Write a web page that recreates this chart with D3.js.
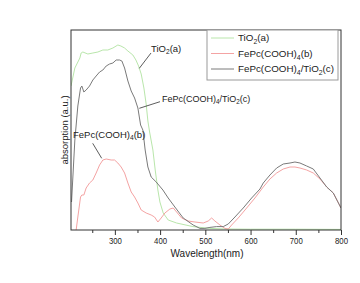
<!DOCTYPE html>
<html>
<head>
<meta charset="utf-8">
<script src="https://cdn.jsdelivr.net/npm/d3@7"></script>
<style>
  body { margin: 0; background: #fff; }
  text { font-family: "Liberation Sans", Arial, sans-serif; fill: #222; }
</style>
</head>
<body>
<svg id="chart" width="360" height="283"></svg>
<script>
// data (wavelength in nm, absorption in a.u.)
const tio2Wl  = [203, 211.5, 222.6, 225.4, 229.2, 240.3, 251.3, 262.4, 273.5, 284.5, 295.6, 306.6, 313.3, 321.5, 328.8, 339.8, 346.5, 352.4, 358.2, 364.2, 369.2, 373, 376.8, 384.1, 389.2, 395.1, 399.6, 406.9, 417.9, 436.5, 472.6, 510.2, 547.1, 600, 700, 800];
const tio2Abs = [0.72, 0.81, 0.86, 0.885, 0.89, 0.88, 0.885, 0.89, 0.90, 0.90, 0.91, 0.925, 0.92, 0.91, 0.895, 0.875, 0.85, 0.82, 0.78, 0.71, 0.63, 0.545, 0.49, 0.40, 0.30, 0.20, 0.14, 0.085, 0.05, 0.035, 0.017, 0.008, 0.005, 0.004, 0.004, 0.003];

const fepcWl  = [214.4, 218.1, 224.1, 227, 231.4, 236.5, 244, 251.3, 258.6, 266.2, 273.5, 280.8, 291.8, 299.3, 306.6, 313.9, 321.5, 328.8, 336.1, 343.6, 350.9, 358.2, 369.2, 380.3, 387.8, 395.1, 402.4, 410.6, 421.7, 429, 436.5, 447.6, 462.2, 477, 495.4, 506.4, 514, 521.2, 532.3, 543.4, 550.7, 558.2, 572.8, 591.4, 609.7, 628.1, 642.9, 657.7, 672.3, 687.2, 698.2, 709.3, 724.1, 738.7, 753.5, 768.4, 783, 800];
const fepcAbs = [0, 0.065, 0.165, 0.175, 0.175, 0.21, 0.235, 0.25, 0.285, 0.325, 0.35, 0.355, 0.35, 0.35, 0.335, 0.315, 0.285, 0.235, 0.19, 0.165, 0.135, 0.10, 0.085, 0.075, 0.065, 0.04, 0.06, 0.085, 0.105, 0.11, 0.09, 0.06, 0.045, 0.04, 0.035, 0.045, 0.06, 0.045, 0.025, 0.008, 0.005, 0.025, 0.06, 0.11, 0.16, 0.215, 0.255, 0.285, 0.305, 0.315, 0.315, 0.31, 0.30, 0.285, 0.255, 0.215, 0.185, 0.11];

const mixWl  = [204.2, 211.5, 218.1, 224.1, 227, 231.4, 236.5, 244, 251.3, 258.6, 266.2, 273.5, 280.8, 288.3, 295.6, 302.9, 310.4, 315.5, 321.5, 328.8, 336.1, 343.6, 350.9, 356.9, 361.9, 367, 373, 380.3, 391.4, 406.2, 417.9, 432.7, 451.1, 473.2, 488.1, 499.1, 510.2, 525, 539.6, 550.7, 565.5, 583.8, 602.4, 620.8, 628.1, 642.9, 657.7, 672.3, 687.2, 698.2, 709.3, 724.1, 738.7, 753.5, 768.4, 783, 800];
const mixAbs = [0.14, 0.45, 0.62, 0.71, 0.72, 0.69, 0.70, 0.72, 0.75, 0.77, 0.79, 0.80, 0.82, 0.83, 0.835, 0.85, 0.85, 0.845, 0.81, 0.745, 0.695, 0.66, 0.61, 0.525, 0.50, 0.40, 0.315, 0.265, 0.24, 0.20, 0.16, 0.115, 0.06, 0.025, 0.008, 0.008, 0.013, 0.017, 0.017, 0.03, 0.065, 0.11, 0.16, 0.205, 0.235, 0.275, 0.31, 0.33, 0.335, 0.34, 0.335, 0.32, 0.305, 0.26, 0.215, 0.185, 0.11];

const majorTicks = [300, 400, 500, 600, 700, 800];
const minorTicks = [250, 350, 450, 550, 650, 750];

const svg = d3.select("#chart");
const plotL = 71, plotR = 341, plotT = 30, plotB = 230;

const x = d3.scaleLinear().domain([203, 800]).range([plotL, plotR]);
const y = d3.scaleLinear().domain([0, 1]).range([plotB, plotT]);

const series = [
  {wl: tio2Wl, abs: tio2Abs, color: "#b9e6ab"},
  {wl: fepcWl, abs: fepcAbs, color: "#f4a3a3"},
  {wl: mixWl,  abs: mixAbs,  color: "#7a7a7a"}
];

const line = d3.line()
  .x(d => x(d[0]))
  .y(d => y(d[1]));

svg.append("defs").append("clipPath").attr("id", "clip")
  .append("rect").attr("x", plotL).attr("y", plotT)
  .attr("width", plotR - plotL).attr("height", plotB - plotT);

svg.append("g").attr("clip-path", "url(#clip)")
  .selectAll("path")
  .data(series)
  .join("path")
  .attr("d", s => line(d3.zip(s.wl, s.abs)))
  .attr("fill", "none")
  .attr("stroke", s => s.color)
  .attr("stroke-width", 1);

// frame
svg.append("rect")
  .attr("x", plotL).attr("y", plotT)
  .attr("width", plotR - plotL).attr("height", plotB - plotT)
  .attr("fill", "none").attr("stroke", "#333").attr("stroke-width", 1);

// bottom axis
const xAxis = svg.append("g")
  .attr("transform", `translate(0,${plotB})`)
  .call(d3.axisBottom(x).tickValues(majorTicks).tickSize(5).tickSizeOuter(0).tickPadding(2));
xAxis.select(".domain").remove();
xAxis.selectAll("line").attr("stroke", "#333");
xAxis.selectAll("text")
  .attr("font-size", 9.5)
  .attr("font-family", "Liberation Sans, Arial, sans-serif")
  .attr("fill", "#222")
  .attr("transform", "scale(0.82,1)");

svg.append("g")
  .attr("transform", `translate(0,${plotB})`)
  .call(d3.axisBottom(x).tickValues(minorTicks).tickSize(3).tickFormat(""))
  .call(g => g.select(".domain").remove())
  .selectAll("line").attr("stroke", "#333");

svg.append("text")
  .attr("x", (plotL + plotR) / 2 + 1)
  .attr("y", 257)
  .attr("text-anchor", "middle")
  .attr("font-size", 10)
  .text("Wavelength(nm)");

svg.append("text")
  .attr("transform", `translate(68,130) rotate(-90)`)
  .attr("text-anchor", "middle")
  .attr("font-size", 9.5)
  .text("absorption (a.u.)");

// text with subscripts: parts are [text, isSub]
function richText(g, parts, size) {
  const t = g.append("text").attr("font-size", size);
  parts.forEach((p, i) => {
    const span = t.append("tspan").text(p[0]);
    if (p[1]) span.attr("font-size", size * 0.7).attr("dy", size * 0.3);
    else if (i > 0 && parts[i - 1][1]) span.attr("dy", -size * 0.3);
  });
  return t;
}

const labelA = [["TiO", false], ["2", true], ["(a)", false]];
const labelB = [["FePc(COOH)", false], ["4", true], ["(b)", false]];
const labelC = [["FePc(COOH)", false], ["4", true], ["/TiO", false], ["2", true], ["(c)", false]];

// legend
const legend = svg.append("g");
legend.append("rect")
  .attr("x", 207).attr("y", 30).attr("width", 131).attr("height", 50)
  .attr("fill", "#fff").attr("stroke", "#9a9a9a").attr("stroke-width", 1);
[labelA, labelB, labelC].forEach((lab, i) => {
  const yy = 38 + i * 15.5;
  legend.append("line")
    .attr("x1", 211).attr("x2", 234).attr("y1", yy).attr("y2", yy)
    .attr("stroke", series[i].color).attr("stroke-width", 1);
  const g = legend.append("g").attr("transform", `translate(238,${yy + 3.3})`);
  richText(g, lab, 9.8);
});

// annotations with leader lines
const notes = [
  {lab: labelA, tx: 151, ty: 51.5, size: 9.5, l: [151, 53, 139.3, 68.3]},
  {lab: labelC, tx: 162, ty: 101.5, size: 9, l: [160, 101.7, 139.3, 108.3]},
  {lab: labelB, tx: 73, ty: 137.5, size: 9.5, l: [92.7, 143.3, 101.7, 158.3]}
];
notes.forEach(n => {
  svg.append("line")
    .attr("x1", n.l[0]).attr("y1", n.l[1]).attr("x2", n.l[2]).attr("y2", n.l[3])
    .attr("stroke", "#333").attr("stroke-width", 0.8);
  const g = svg.append("g").attr("transform", `translate(${n.tx},${n.ty})`);
  richText(g, n.lab, n.size);
});
</script>
</body>
</html>
